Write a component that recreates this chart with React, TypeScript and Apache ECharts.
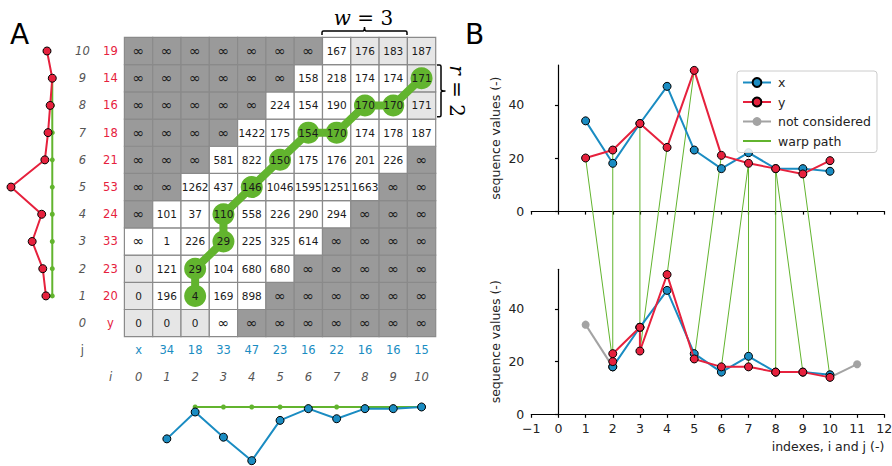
import React, { useEffect, useRef } from "react";
import * as echarts from "echarts";

// ---------- data ----------
const indexLabels = ["0", "1", "2", "3", "4", "5", "6", "7", "8", "9", "10"];
const xSeq = [34, 18, 33, 47, 23, 16, 22, 16, 16, 15]; // x_1..x_10
const ySeq = [20, 23, 33, 24, 53, 21, 18, 16, 14, 19]; // y_1..y_10
// accumulated cost matrix, rows j = 0..10, columns i = 0..10
const costRows: string[][] = [
  ["0", "0", "0", "∞", "∞", "∞", "∞", "∞", "∞", "∞", "∞"],
  ["0", "196", "4", "169", "898", "∞", "∞", "∞", "∞", "∞", "∞"],
  ["0", "121", "29", "104", "680", "680", "∞", "∞", "∞", "∞", "∞"],
  ["∞", "1", "226", "29", "225", "325", "614", "∞", "∞", "∞", "∞"],
  ["∞", "101", "37", "110", "558", "226", "290", "294", "∞", "∞", "∞"],
  ["∞", "∞", "1262", "437", "146", "1046", "1595", "1251", "1663", "∞", "∞"],
  ["∞", "∞", "∞", "581", "822", "150", "175", "176", "201", "226", "∞"],
  ["∞", "∞", "∞", "∞", "1422", "175", "154", "170", "174", "178", "187"],
  ["∞", "∞", "∞", "∞", "∞", "224", "154", "190", "170", "170", "171"],
  ["∞", "∞", "∞", "∞", "∞", "∞", "158", "218", "174", "174", "171"],
  ["∞", "∞", "∞", "∞", "∞", "∞", "∞", "167", "176", "183", "187"],
];
// cell shading: d = outside window, l = boundary, w = computed
const shadeRows = [
  "lllwddddddd",
  "lwwwwdddddd",
  "lwwwwwddddd",
  "wwwwwwwdddd",
  "dwwwwwwwddd",
  "ddwwwwwwwdd",
  "dddwwwwwwwd",
  "ddddwwwwwww",
  "dddddwwwwwl",
  "ddddddwwwwl",
  "dddddddwlll",
];
// warp path (i, j)
const warpPath: [number, number][] = [
  [2, 1], [2, 2], [3, 3], [3, 4], [4, 5], [5, 6], [6, 7], [7, 7], [8, 8], [9, 8], [10, 9],
];
const leftEnvelopeValue = 14;
const bottomEnvelopeValue = 15;
const yTicksB = [0, 20, 40];

// ---------- styles ----------
const FONT = "DejaVu Sans";
const BLUE = "#1a8cc2";
const RED = "#e6213d";
const GREEN = "#62b42e";
const GRAY = "#a3a3a3";
const TXT = "#222222";
const SHADE: Record<string, string> = { d: "#9a9a9a", l: "#e6e6e6", w: "#ffffff" };

const hBracePath =
  "M0 8 L0 5.5 Q0 4 1.5 4 L41 4 Q42.5 4 42.5 0 Q42.5 4 44 4 L83.5 4 Q85 4 85 5.5 L85 8";
const vBracePath =
  "M0 0 L2.5 0 Q4 0 4 1.5 L4 24.4 Q4 25.9 8.5 25.9 Q4 25.9 4 27.4 L4 50.2 Q4 51.7 2.5 51.7 L0 51.7";
try {
  echarts.graphic.registerShape("hbrace", echarts.graphic.extendPath(hBracePath, {}));
  echarts.graphic.registerShape("vbrace", echarts.graphic.extendPath(vBracePath, {}));
} catch (e) {
  // ignore
}

function buildOption(warpLines: any[]) {
  const cellData: number[][] = [];
  for (let j = 0; j <= 10; j++) for (let i = 0; i <= 10; i++) cellData.push([i, j]);

  const hiddenAxis = {
    show: false,
    axisLine: { show: false },
    axisTick: { show: false },
    axisLabel: { show: false },
    splitLine: { show: false },
  };

  const bAxisLine = { show: true, lineStyle: { color: "#000", width: 1.2 } };
  const bTick = { show: true, length: 3.5, lineStyle: { color: "#000", width: 1.2 } };

  const makeBY = (gi: number) => ({
    gridIndex: gi,
    type: "value",
    min: 0,
    max: 55,
    interval: 20,
    axisLine: bAxisLine,
    axisTick: { ...bTick, customValues: yTicksB },
    axisLabel: {
      customValues: yTicksB,
      margin: 7,
      fontSize: 12.5,
      color: TXT,
      fontFamily: FONT,
      formatter: (v: number) => (v % 20 === 0 ? String(v) : ""),
    },
    splitLine: { show: false },
    name: "sequence values (-)",
    nameLocation: "middle",
    nameGap: 29,
    nameTextStyle: { fontSize: 12.5, color: TXT, fontFamily: FONT },
  });

  const staticGraphics: any[] = [
    { id: "A", type: "text", x: 19.5, y: 34.5, style: { text: "A", fontSize: 28, fontFamily: FONT, fill: "#000", align: "center", verticalAlign: "middle" } },
    { id: "B", type: "text", x: 474.5, y: 34.5, style: { text: "B", fontSize: 28, fontFamily: FONT, fill: "#000", align: "center", verticalAlign: "middle" } },
    { id: "jl", type: "text", x: 82.3, y: 350, style: { text: "j", fontSize: 11.5, fontFamily: FONT, fill: "#555", align: "center", verticalAlign: "middle" } },
    { id: "il", type: "text", x: 110.7, y: 377, style: { text: "i", fontSize: 11.5, fontStyle: "italic", fontFamily: FONT, fill: "#555", align: "center", verticalAlign: "middle" } },
    {
      id: "w3", type: "text", x: 363.5, y: 18,
      style: {
        text: "{a|w} {b|= 3}", fontSize: 20, fontFamily: "DejaVu Serif", fill: "#000", align: "center", verticalAlign: "middle",
        rich: { a: { fontStyle: "italic", fontSize: 20, fontFamily: "DejaVu Serif" }, b: { fontSize: 20, fontFamily: "DejaVu Serif" } },
      },
    },
    {
      id: "r2", type: "text", x: 457, y: 91, rotation: -Math.PI / 2,
      style: {
        text: "{a|r} {b|= 2}", fontSize: 20, fontFamily: "DejaVu Serif", fill: "#000", align: "center", verticalAlign: "middle",
        rich: { a: { fontStyle: "italic", fontSize: 20, fontFamily: "DejaVu Serif" }, b: { fontSize: 20, fontFamily: "DejaVu Serif" } },
      },
    },
    { id: "hb", type: "hbrace", x: 322, y: 27, style: { stroke: "#000", lineWidth: 1.5, fill: "none" } },
    { id: "vb", type: "vbrace", x: 437, y: 65, style: { stroke: "#000", lineWidth: 1.5, fill: "none" } },
  ];

  return {
    animation: false,
    textStyle: { fontFamily: FONT },
    grid: [
      { left: 124.4, top: 37.4, width: 311.3, height: 299.3, outerBoundsMode: "none" },
      { left: 3.6, top: 37.4, width: 63.5, height: 299.3, outerBoundsMode: "none" },
      { left: 124.4, top: 381.8, width: 311.3, height: 83.9, outerBoundsMode: "none" },
      { left: 531.3, top: 65.1, width: 353, height: 146, outerBoundsMode: "none" },
      { left: 531.3, top: 269.3, width: 353, height: 145, outerBoundsMode: "none" },
    ],
    xAxis: [
      {
        gridIndex: 0, type: "category", data: indexLabels, boundaryGap: true,
        axisLine: { show: false }, axisTick: { show: false }, splitLine: { show: false },
        axisLabel: {
          interval: 0, margin: 0,
          formatter: (_v: string, idx: number) => `{v|${idx === 0 ? "x" : xSeq[idx - 1]}}\n{n|${idx}}`,
          rich: {
            v: { color: BLUE, fontSize: 11.5, lineHeight: 27, fontFamily: FONT, align: "center" },
            n: { color: "#555", fontSize: 11.5, lineHeight: 27, fontStyle: "italic", fontFamily: FONT, align: "center" },
          },
        },
      },
      { gridIndex: 1, type: "value", min: 0, max: 60, inverse: true, ...hiddenAxis },
      { gridIndex: 2, type: "value", min: 0, max: 11, ...hiddenAxis },
      {
        gridIndex: 3, type: "value", min: -1, max: 12, interval: 1,
        axisLine: bAxisLine, axisTick: bTick, axisLabel: { show: false }, splitLine: { show: false },
      },
      {
        gridIndex: 4, type: "value", min: -1, max: 12, interval: 1,
        axisLine: bAxisLine, axisTick: bTick, splitLine: { show: false },
        axisLabel: {
          margin: 8, fontSize: 12.5, color: TXT, fontFamily: FONT,
          formatter: (v: number) => (v < 0 ? "\u2212" + Math.abs(v) : String(v)),
        },
        name: "indexes, i and j (-)",
        nameLocation: "end",
        nameGap: 0,
        nameTextStyle: { align: "right", verticalAlign: "top", padding: [26, 0, 0, 0], fontSize: 12.5, color: TXT, fontFamily: FONT },
      },
    ],
    yAxis: [
      {
        gridIndex: 0, type: "category", data: indexLabels, boundaryGap: true,
        axisLine: { show: false }, axisTick: { show: false }, splitLine: { show: false },
        axisLabel: {
          interval: 0, margin: 0,
          formatter: (_v: string, idx: number) => `{n|${idx}}{v|${idx === 0 ? "y" : ySeq[idx - 1]}}`,
          rich: {
            n: { color: "#555", fontSize: 11.5, fontStyle: "italic", width: 28, align: "center", fontFamily: FONT },
            v: { color: RED, fontSize: 11.5, width: 28, align: "center", fontFamily: FONT },
          },
        },
      },
      { gridIndex: 1, type: "value", min: 0, max: 11, ...hiddenAxis },
      { gridIndex: 2, type: "value", min: 0, max: 50, inverse: true, ...hiddenAxis },
      makeBY(3),
      makeBY(4),
    ],
    legend: {
      orient: "vertical",
      left: 737,
      top: 71,
      itemWidth: 28,
      itemHeight: 11,
      itemGap: 6.5,
      padding: [5, 6, 5, 5],
      borderColor: "#cccccc",
      borderWidth: 1,
      borderRadius: 3,
      backgroundColor: "rgba(255,255,255,0.85)",
      selectedMode: false,
      textStyle: { fontSize: 12.5, color: TXT, fontFamily: FONT, padding: [0, 0, 0, 2] },
      data: [
        { name: "x" },
        { name: "y" },
        { name: "not considered" },
        { name: "warp path", itemStyle: { color: "rgba(0,0,0,0)", borderColor: "rgba(0,0,0,0)", borderWidth: 0, opacity: 0 } },
      ],
    },
    graphic: { elements: [...staticGraphics, ...warpLines] },
    series: [
      {
        type: "custom", name: "cells", xAxisIndex: 0, yAxisIndex: 0, z: 1, data: cellData,
        renderItem: (params: any, api: any) => {
          const i = api.value(0), j = api.value(1);
          const c = api.coord([i, j]);
          const s = api.size([1, 1]);
          return {
            type: "rect",
            shape: { x: c[0] - s[0] / 2, y: c[1] - s[1] / 2, width: s[0], height: s[1] },
            style: { fill: SHADE[shadeRows[j][i]], stroke: "#8a8a8a", lineWidth: 1.2 },
          };
        },
      },
      {
        type: "line", name: "path", xAxisIndex: 0, yAxisIndex: 0, z: 3, data: warpPath,
        symbol: "circle", symbolSize: 22, itemStyle: { color: GREEN }, lineStyle: { color: GREEN, width: 8 },
      },
      {
        type: "custom", name: "celltext", xAxisIndex: 0, yAxisIndex: 0, z: 5, data: cellData,
        renderItem: (params: any, api: any) => {
          const i = api.value(0), j = api.value(1);
          const c = api.coord([i, j]);
          const t = costRows[j][i];
          const inf = t === "∞";
          return {
            type: "text", x: c[0], y: c[1],
            style: { text: t, fill: "#1a1a1a", fontSize: inf ? 14.5 : 10.5, fontFamily: FONT, align: "center", verticalAlign: "middle" },
          };
        },
      },
      {
        type: "line", name: "leftEnv", xAxisIndex: 1, yAxisIndex: 1, z: 2,
        data: warpPath.map(([, j]) => j).filter((j, k, arr) => arr.indexOf(j) === k).map((j) => [leftEnvelopeValue, j + 0.5]),
        symbol: "circle", symbolSize: 5, itemStyle: { color: GREEN }, lineStyle: { color: GREEN, width: 2 },
      },
      {
        type: "line", name: "leftY", xAxisIndex: 1, yAxisIndex: 1, z: 3,
        data: ySeq.map((v, k) => [v, k + 1.5]),
        symbol: "circle", symbolSize: 8, itemStyle: { color: RED, borderColor: "#000", borderWidth: 1 }, lineStyle: { color: RED, width: 2 },
      },
      {
        type: "line", name: "bottomEnv", xAxisIndex: 2, yAxisIndex: 2, z: 2,
        data: warpPath.map(([i]) => i).filter((i, k, arr) => arr.indexOf(i) === k).map((i) => [i + 0.5, bottomEnvelopeValue]),
        symbol: "circle", symbolSize: 5, itemStyle: { color: GREEN }, lineStyle: { color: GREEN, width: 2 },
      },
      {
        type: "line", name: "bottomX", xAxisIndex: 2, yAxisIndex: 2, z: 3,
        data: xSeq.map((v, k) => [k + 1.5, v]),
        symbol: "circle", symbolSize: 8, itemStyle: { color: BLUE, borderColor: "#000", borderWidth: 1 }, lineStyle: { color: BLUE, width: 2 },
      },
      // panel B top
      {
        type: "line", name: "x", xAxisIndex: 3, yAxisIndex: 3, z: 3,
        data: xSeq.map((v, k) => [k + 1, v]),
        symbol: "circle", symbolSize: 8, itemStyle: { color: BLUE, borderColor: "#000", borderWidth: 1 }, lineStyle: { color: BLUE, width: 2 },
      },
      {
        type: "line", name: "y", xAxisIndex: 3, yAxisIndex: 3, z: 4,
        data: ySeq.map((v, k) => [k + 1, v]),
        symbol: "circle", symbolSize: 8, itemStyle: { color: RED, borderColor: "#000", borderWidth: 1 }, lineStyle: { color: RED, width: 2 },
      },
      {
        type: "line", name: "not considered", xAxisIndex: 4, yAxisIndex: 4, z: 2,
        data: [
          { value: [1, xSeq[0]] },
          { value: [warpPath[0][0], xSeq[warpPath[0][0] - 1]], symbol: "none" },
        ],
        symbol: "circle", symbolSize: 8, itemStyle: { color: GRAY, borderWidth: 0 }, lineStyle: { color: GRAY, width: 2 },
      },
      {
        type: "line", name: "not considered", xAxisIndex: 4, yAxisIndex: 4, z: 2,
        data: [
          { value: [warpPath[warpPath.length - 1][0], ySeq[warpPath[warpPath.length - 1][1] - 1]], symbol: "none" },
          { value: [11, ySeq[9]] },
        ],
        symbol: "circle", symbolSize: 8, itemStyle: { color: GRAY, borderWidth: 0 }, lineStyle: { color: GRAY, width: 2 },
      },
      {
        type: "line", name: "warp path", xAxisIndex: 3, yAxisIndex: 3, z: 1, data: [],
        symbol: "none", itemStyle: { color: GREEN }, lineStyle: { color: GREEN, width: 1 },
      },
      // panel B bottom (warped)
      {
        type: "line", name: "x", xAxisIndex: 4, yAxisIndex: 4, z: 3,
        data: warpPath.map(([i]) => [i, xSeq[i - 1]]),
        symbol: "circle", symbolSize: 8, itemStyle: { color: BLUE, borderColor: "#000", borderWidth: 1 }, lineStyle: { color: BLUE, width: 2 },
      },
      {
        type: "line", name: "y", xAxisIndex: 4, yAxisIndex: 4, z: 4,
        data: warpPath.map(([i, j]) => [i, ySeq[j - 1]]),
        symbol: "circle", symbolSize: 8, itemStyle: { color: RED, borderColor: "#000", borderWidth: 1 }, lineStyle: { color: RED, width: 2 },
      },
    ],
  };
}

export default function App() {
  const ref = useRef<HTMLDivElement>(null);
  useEffect(() => {
    if (!ref.current) return;
    const chart = echarts.init(ref.current, undefined, { renderer: "svg" });
    chart.setOption(buildOption([]) as any);
    const lines = warpPath.map(([i, j], k) => {
      const v = ySeq[j - 1];
      const p1 = chart.convertToPixel({ gridIndex: 3 } as any, [j, v]) as number[];
      const p2 = chart.convertToPixel({ gridIndex: 4 } as any, [i, v]) as number[];
      return {
        id: "wl" + k,
        type: "line",
        z: 1,
        shape: { x1: p1[0], y1: p1[1], x2: p2[0], y2: p2[1] },
        style: { stroke: GREEN, lineWidth: 1 },
      };
    });
    chart.setOption(buildOption(lines) as any, true);
    return () => chart.dispose();
  }, []);
  return (
    <div
      ref={ref}
      style={{ position: "absolute", left: 0, top: 0, width: 892, height: 466 }}
    />
  );
}
